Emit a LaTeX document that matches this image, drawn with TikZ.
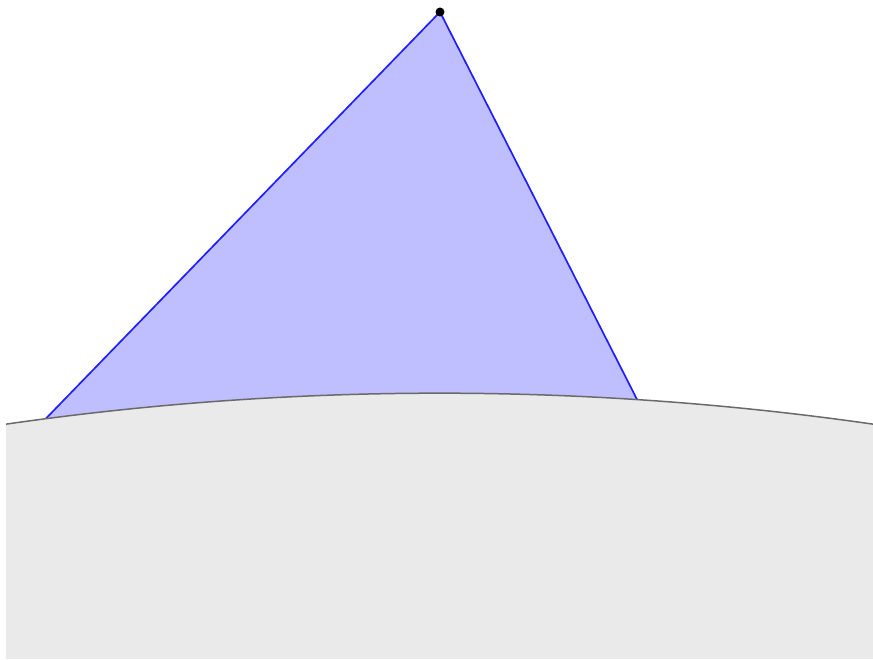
\documentclass[tikz,border=0pt]{standalone}
\usetikzlibrary{calc}
\definecolor{tri}{HTML}{BFBFFF}
\definecolor{edge}{HTML}{2020FF}
\definecolor{ground}{HTML}{EAEAEA}
\definecolor{rim}{HTML}{6A6A6A}
\tikzset{
  triside/.style={draw=edge, line width=1.7pt},
  rimline/.style={draw=rim, line width=1.5pt},
}
\begin{document}
\begin{tikzpicture}[x=1pt,y=1pt]
\useasboundingbox (0,0) rectangle (873,660);
\coordinate (A) at (440,648);
\coordinate (L) at (46,241.5);
\coordinate (R) at (637,260.6);
\coordinate (C) at (439.5,-2779);
\fill[tri] (A) -- (L) -- (R) -- cycle;
\draw[triside] (L) -- (A) -- (R);
\fill[ground] (6,1) -- ($(C)+(98.18:3046)$) arc[start angle=98.18,end angle=81.82,radius=3046] -- (873,1) -- cycle;
\draw[rimline] ($(C)+(98.18:3046)$) arc[start angle=98.18,end angle=81.82,radius=3046];
\fill[black] (A) circle[radius=4.5];
\end{tikzpicture}
\end{document}
